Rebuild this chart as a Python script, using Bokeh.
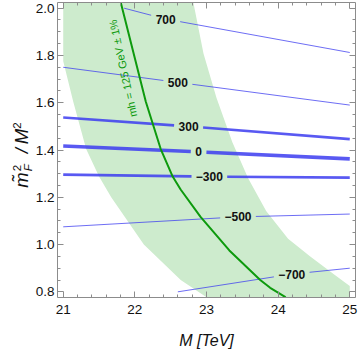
import numpy as np
from bokeh.plotting import figure
from bokeh.models import Range1d, LinearAxis, Label, FixedTicker, Div
from bokeh.layouts import row
from bokeh.core.properties import value
from bokeh.embed import file_html
from bokeh.resources import INLINE

# ---------------- data ----------------
x_ticks = [21, 22, 23, 24, 25]
y_ticks = [0.8, 1.0, 1.2, 1.4, 1.6, 1.8, 2.0]
y_tick_labels = ["0.8", "1.0", "1.2", "1.4", "1.6", "1.8", "2.0"]

# m_h = 125 GeV +- 1% band (left and right edges), M in TeV vs m_F^2/M^2
band_left_m = [21.0, 21.0, 21.14, 21.32, 21.5, 21.67, 22.125, 22.64, 22.99, 23.0]
band_left_y = [2.04, 1.775, 1.604, 1.404, 1.2875, 1.2, 1.0, 0.85, 0.779, 0.77]
band_right_m = [22.806, 22.958, 23.139, 23.361, 23.583, 23.833, 24.139, 24.444, 24.792, 25.0, 25.0]
band_right_y = [2.04, 1.808, 1.621, 1.433, 1.279, 1.142, 1.025, 0.950, 0.871, 0.825, 0.77]

# central m_h = 125 GeV curve
mh_line_m = [21.79, 22.153, 22.361, 22.528, 22.639, 22.917, 23.319, 23.75, 23.889, 24.097, 24.11]
mh_line_y = [2.04, 1.604, 1.404, 1.2875, 1.233, 1.117, 0.975, 0.85, 0.817, 0.779, 0.77]

# contour lines
contour_labels = ["700", "500", "300", "0", "\u2212300", "\u2212500", "\u2212700"]
contour_start_m = [21.85, 21.0, 21.0, 21.0, 21.0, 21.0, 22.6]
contour_start_y = [2.0, 1.75, 1.5375, 1.417, 1.296, 1.075, 0.8]
contour_label_m = [22.43, 22.6, 22.75, 22.89, 23.04, 23.44, 24.19]
contour_label_y = [1.954, 1.686, 1.5, 1.392, 1.2875, 1.117, 0.875]
contour_end_m = [25.0, 25.0, 25.0, 25.0, 25.0, 25.0, 25.0]
contour_end_y = [1.8125, 1.59, 1.446, 1.3625, 1.283, 1.129, 0.9]

# ---------------- figure ----------------
X0, X1 = 20.92, 25.08
Y0, Y1 = 0.776, 2.024
DIV_W = 32
FIG_W, FIG_H = 360 - DIV_W, 351
p = figure(width=FIG_W, height=FIG_H, x_range=Range1d(X0, X1), y_range=Range1d(Y0, Y1),
           output_backend="svg", toolbar_location=None)
p.min_border_left = 24
p.min_border_right = 5
p.min_border_top = 2
p.min_border_bottom = 49
p.grid.visible = False
p.outline_line_color = None
p.background_fill_color = "white"
p.border_fill_color = None

px_per_m = 299 / (X1 - X0)

# band
band_m = band_left_m + band_right_m[::-1]
band_y = band_left_y + band_right_y[::-1]
p.patch(band_m, band_y, fill_color="#cdebcd", line_color=None)

# contour lines, split around labels
widths = [1.0, 1.0, 2.6, 3.6, 2.6, 1.0, 1.0]
alphas = [0.75, 0.75, 0.85, 0.85, 0.85, 0.75, 0.75]
xs, ys, lw, la = [], [], [], []
for i, lab in enumerate(contour_labels):
    ms = [contour_start_m[i], contour_label_m[i], contour_end_m[i]]
    yv = [contour_start_y[i], contour_label_y[i], contour_end_y[i]]
    half = (len(lab) * 6.7 / 2 + 4.5) / px_per_m
    gl, gr = contour_label_m[i] - half, contour_label_m[i] + half
    xs.append([ms[0], gl]); ys.append([yv[0], float(np.interp(gl, ms, yv))])
    xs.append([gr, ms[2]]); ys.append([float(np.interp(gr, ms, yv)), yv[2]])
    lw += [widths[i]] * 2
    la += [alphas[i]] * 2
p.multi_line(xs=xs, ys=ys, line_width=lw, line_alpha=la, line_color="#3c3cf0")

# central curve
p.line(mh_line_m, mh_line_y, line_color="#0d9a0d", line_width=2)

# contour labels
p.text(x=contour_label_m, y=contour_label_y, text=contour_labels,
       text_font=value("Liberation Sans"), text_font_style="bold",
       text_font_size="12px", text_align="center", text_baseline="middle",
       text_color="#111111")

# curve label
p.add_layout(Label(x=21.833, y=1.745, text="mh = 125 GeV \u00b1 1%", angle=1.784,
                   text_font="Liberation Sans", text_font_size="11px",
                   text_color="#0d9a0d", text_align="center", text_baseline="middle"))

# ---------------- axes ----------------
minor_x = [round(v, 2) for v in np.arange(21.0, 25.01, 0.2) if abs(v - round(v)) > 1e-6]
minor_y = [round(v, 2) for v in np.arange(0.8, 2.001, 0.05)]
xt = FixedTicker(ticks=x_ticks, minor_ticks=minor_x)
yt = FixedTicker(ticks=y_ticks, minor_ticks=minor_y)

p.add_layout(LinearAxis(), "above")
p.add_layout(LinearAxis(), "right")

for ax in p.xaxis:
    ax.ticker = xt
for ax in p.yaxis:
    ax.ticker = yt
    ax.major_label_overrides = {t: s for t, s in zip(y_ticks, y_tick_labels)}

for ax in p.xaxis + p.yaxis:
    ax.axis_line_color = "#8c8c8c"
    ax.major_tick_line_color = "#8c8c8c"
    ax.minor_tick_line_color = "#8c8c8c"
    ax.major_tick_in = 6
    ax.major_tick_out = 0
    ax.minor_tick_in = 3
    ax.minor_tick_out = 0
    ax.major_label_text_font = "Liberation Sans"
    ax.major_label_text_font_size = "13.5px"
    ax.major_label_text_color = "#111111"

# top and right frame axes: ticks only, no labels
p.above[0].major_label_overrides = {t: "" for t in x_ticks}
p.right[0].major_label_overrides = {t: "" for t in y_ticks}
for ax in [p.above[0], p.right[0]]:
    ax.major_label_text_font_size = "0px"
    ax.major_label_standoff = 0

bx = p.below[0]
bx.major_label_standoff = 7
p.left[0].major_label_standoff = 3
bx.axis_label = "M [TeV]"
bx.axis_label_text_font = "Liberation Sans"
bx.axis_label_text_font_style = "italic"
bx.axis_label_text_font_size = "16px"
bx.axis_label_text_color = "#111111"
bx.axis_label_standoff = 15

# ---------------- y-axis label (rotated HTML text with sub/superscripts) ----------------
BW, BH = 100, 26
cx, cy = 22.0, 155.0          # centre of the rotated label inside the div
ylabel_html = (
    f'<div style="position:relative;width:{DIV_W}px;height:{FIG_H}px;">'
    f'<div style="position:absolute;left:{cx - BW / 2}px;top:{cy - BH / 2}px;'
    f'width:{BW}px;height:{BH}px;line-height:{BH}px;transform:rotate(-90deg);'
    'transform-origin:50% 50%;white-space:nowrap;text-align:center;'
    "font-family:'Liberation Sans';font-size:18.5px;font-style:italic;color:#111;\">"
    'm&#771;<span style="display:inline-block;vertical-align:-4px;font-size:11.5px;'
    'line-height:11.5px;font-style:normal;text-align:left;margin-left:1px;">2<br><i>F</i></span>'
    '<span style="margin:0 4px 0 11px;">/</span>M'
    '<span style="font-size:11.5px;font-style:normal;vertical-align:7px;line-height:0;">2</span>'
    '</div></div>'
)
ylab = Div(text=ylabel_html, width=DIV_W, height=FIG_H, margin=(0, 0, 0, 0),
           styles={"overflow": "visible"})

layout = row(ylab, p)
open("out.html", "w").write(file_html(layout, INLINE))
